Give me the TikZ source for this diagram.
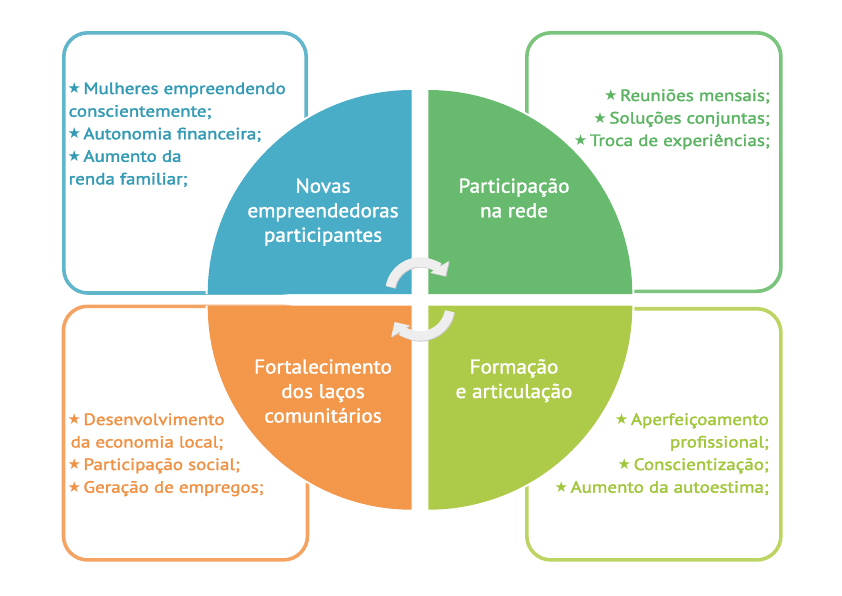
\documentclass[tikz,border=0pt]{standalone}
\usepackage{fontspec}
\setmainfont{PT Sans}
\newfontfamily\boxfont[FakeStretch=1.16,FakeBold=2]{PT Sans}
\newfontfamily\circfont[FakeStretch=1.06,FakeBold=1.6]{PT Sans}
\newfontfamily\symfont{DejaVu Sans}
\usetikzlibrary{arrows.meta}
\definecolor{fblue}{RGB}{74,173,199}
\definecolor{fgreen}{RGB}{104,187,110}
\definecolor{flime}{RGB}{173,203,72}
\definecolor{forange}{RGB}{243,151,75}
\definecolor{lblue}{RGB}{98,182,204}
\definecolor{lgreen}{RGB}{122,196,126}
\definecolor{llime}{RGB}{188,213,98}
\definecolor{lorange}{RGB}{244,163,98}
\definecolor{tblue}{RGB}{50,154,180}
\definecolor{tgreen}{RGB}{92,180,98}
\definecolor{tlime}{RGB}{160,198,58}
\definecolor{torange}{RGB}{240,146,70}
\definecolor{arrowfill}{RGB}{238,238,238}
\definecolor{arrowshade}{RGB}{200,200,200}
\newcommand{\st}{{\symfont\fontsize{15}{10}\selectfont\raisebox{0.5pt}{★}}\hspace{2.5pt}}
\begin{document}
\begin{tikzpicture}[x=1pt,y=-1pt,
  boxline/.style={line width=3.6pt, rounded corners=24pt},
  btxt/.style={font=\boxfont\fontsize{16.4}{20}\selectfont, inner sep=0pt},
  ctxt/.style={font=\circfont\fontsize{20}{24}\selectfont, text=white, inner sep=0pt, anchor=base},
  cyc/.style={line width=9.5pt, -{Triangle[width=21pt,length=11pt]}}]
\useasboundingbox (0,0) rectangle (842,595);
% outer boxes
\draw[boxline, draw=lblue] (63.8,32.8) rectangle (306.2,293);
\draw[boxline, draw=lgreen] (526.8,32.8) rectangle (780.9,291.3);
\draw[boxline, draw=lorange] (63.5,306.3) rectangle (307.5,559.9);
\draw[boxline, draw=llime] (526.8,308.7) rectangle (780.9,559.9);
% white halo under the circle
\fill[white] (411.7,294) -- ++(-206,0) arc (180:270:206) -- cycle;
\fill[white] (428.3,294) -- ++(0,-206) arc (270:360:206) -- cycle;
\fill[white] (411.7,305.7) -- ++(-206,0) arc (180:90:206) -- cycle;
\fill[white] (428.3,305.7) -- ++(206,0) arc (0:90:206) -- cycle;
% quadrants
\fill[fblue] (411.7,294) -- ++(-204,0) arc (180:270:204) -- cycle;
\fill[fgreen] (428.3,294) -- ++(0,-204) arc (270:360:204) -- cycle;
\fill[forange] (411.7,305.7) -- ++(-204,0) arc (180:90:204) -- cycle;
\fill[flime] (428.3,305.7) -- ++(204,0) arc (0:90:204) -- cycle;
% quadrant labels
\node[ctxt] (q1a) at (323,192.7) {Novas};
\node[ctxt] (q1b) at (323,217.3) {empreendedoras};
\node[ctxt] (q1c) at (323,241.7) {participantes};
\node[ctxt] (q2a) at (514,192.7) {Participação};
\node[ctxt] (q2b) at (514,217.3) {na rede};
\node[ctxt] (q3a) at (323,373.5) {Fortalecimento};
\node[ctxt] (q3b) at (323,398) {dos laços};
\node[ctxt] (q3c) at (323,422.5) {comunitários};
\node[ctxt] (q4a) at (514,373.5) {Formação};
\node[ctxt] (q4b) at (514,398) {e articulação};
% cycle arrows
\coordinate (ct) at (420,292);
\coordinate (cb) at (420,306);
\draw[cyc, arrowshade] ([shift={(0.8,0.8)}]ct) ++(190:30) arc (190:328:30);
\draw[cyc, arrowshade] ([shift={(0.8,0.8)}]cb) ++(10:30) arc (10:148:30);
\draw[cyc, arrowfill] (ct) ++(190:30) arc (190:328:30);
\draw[cyc, arrowfill] (cb) ++(10:30) arc (10:148:30);
% blue box text
\node[btxt, text=tblue, anchor=base west] (b1) at (67.3,94) {\st Mulheres empreendendo};
\node[btxt, text=tblue, anchor=base west] (b2) at (68.5,116.7) {conscientemente;};
\node[btxt, text=tblue, anchor=base west] (b3) at (67.3,139.3) {\st Autonomia financeira;};
\node[btxt, text=tblue, anchor=base west] (b4) at (67.3,161.8) {\st Aumento da};
\node[btxt, text=tblue, anchor=base west] (b5) at (68.5,184.4) {renda familiar;};
% green box text
\node[btxt, text=tgreen, anchor=base east] (g1) at (770,101) {\st Reuniões mensais;};
\node[btxt, text=tgreen, anchor=base east] (g2) at (770,123.5) {\st Soluções conjuntas;};
\node[btxt, text=tgreen, anchor=base east] (g3) at (770,146) {\st Troca de experiências;};
% orange box text
\node[btxt, text=torange, anchor=base west] (o1) at (67.3,425) {\st Desenvolvimento};
\node[btxt, text=torange, anchor=base west] (o2) at (70.5,447.5) {da economia local;};
\node[btxt, text=torange, anchor=base west] (o3) at (67.3,470) {\st Participação social;};
\node[btxt, text=torange, anchor=base west] (o4) at (67.3,492.7) {\st Geração de empregos;};
% lime box text
\node[btxt, text=tlime, anchor=base east] (l1) at (769,425) {\st Aperfeiçoamento};
\node[btxt, text=tlime, anchor=base east] (l2) at (769,447.5) {profissional;};
\node[btxt, text=tlime, anchor=base east] (l3) at (769,470) {\st Conscientização;};
\node[btxt, text=tlime, anchor=base east] (l4) at (769,492.7) {\st Aumento da autoestima;};
\end{tikzpicture}
\end{document}
